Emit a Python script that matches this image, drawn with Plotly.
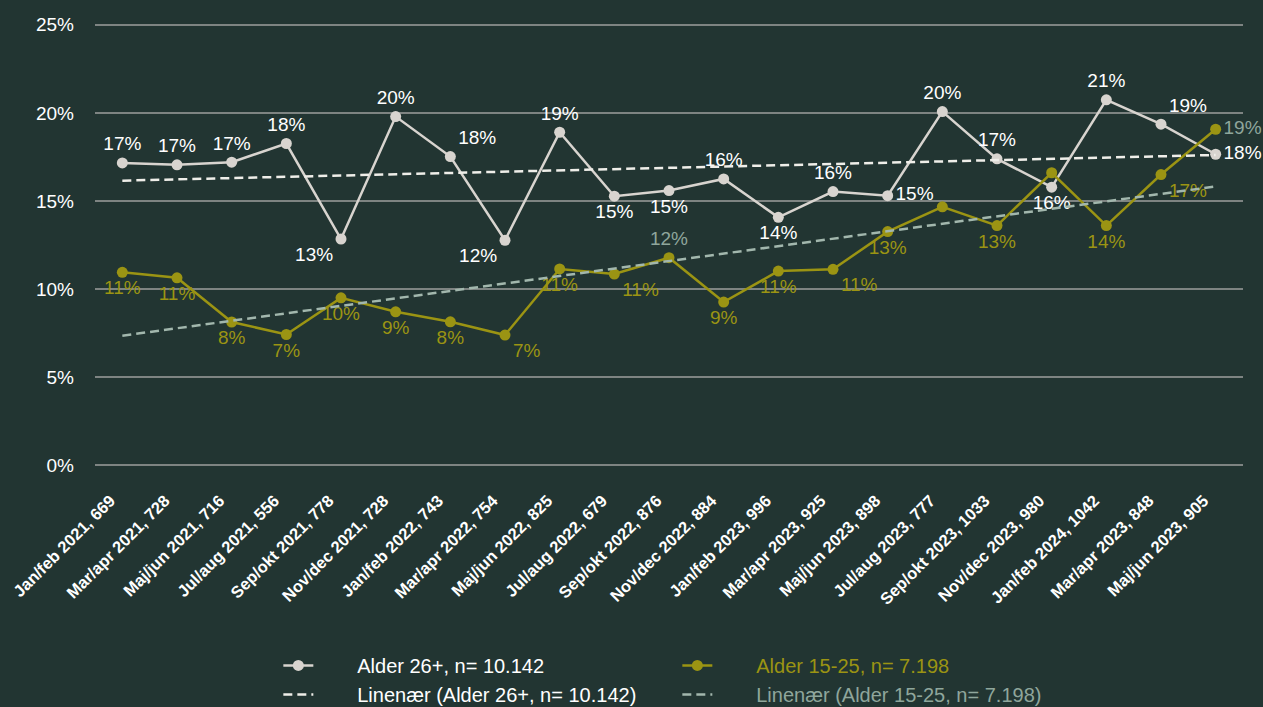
import numpy as np
import plotly.graph_objects as go

categories = [
    "Jan/feb 2021, 669", "Mar/apr 2021, 728", "Maj/jun 2021, 716", "Jul/aug 2021, 556",
    "Sep/okt 2021, 778", "Nov/dec 2021, 728", "Jan/feb 2022, 743", "Mar/apr 2022, 754",
    "Maj/jun 2022, 825", "Jul/aug 2022, 679", "Sep/okt 2022, 876", "Nov/dec 2022, 884",
    "Jan/feb 2023, 996", "Mar/apr 2023, 925", "Maj/jun 2023, 898", "Jul/aug 2023, 777",
    "Sep/okt 2023, 1033", "Nov/dec 2023, 980", "Jan/feb 2024, 1042", "Mar/apr 2023, 848",
    "Maj/jun 2023, 905",
]

age26_values = [17.16, 17.05, 17.2, 18.26, 12.84, 19.79, 17.52, 12.77, 18.9, 15.27, 15.59,
                16.25, 14.07, 15.53, 15.3, 20.07, 17.39, 15.78, 20.74, 19.36, 17.65]
age26_labels = ["17%", "17%", "17%", "18%", "13%", "20%", "18%", "12%", "19%", "15%", "15%",
                "16%", "14%", "16%", "15%", "20%", "17%", "16%", "21%", "19%", "18%"]

age15_values = [10.95, 10.64, 8.13, 7.42, 9.5, 8.71, 8.14, 7.39, 11.14, 10.85, 11.78,
                9.26, 11.02, 11.12, 13.26, 14.67, 13.6, 16.6, 13.6, 16.5, 19.07]
age15_labels = ["11%", "11%", "8%", "7%", "10%", "9%", "8%", "7%", "11%", "11%", "12%",
                "9%", "11%", "11%", "13%", "", "13%", "", "14%", "17%", "19%"]

y_ticks = [0, 5, 10, 15, 20, 25]
y_tick_labels = ["0%", "5%", "10%", "15%", "20%", "25%"]

BG = "#223532"
WHITE_LINE = "#d8d4cf"
OLIVE = "#9b9413"
GRAY_LBL = "#8fa69c"
TREND_W = "#efeee9"
TREND_O = "#a2b7ad"
GRID = "#7e8482"
FONT = "Liberation Sans, Arial, sans-serif"

w_pos = ["top center", "top center", "top center", "top center", "bottom left", "top center",
         "top right", "bottom left", "top center", "bottom center", "bottom center", "top center",
         "bottom center", "top center", "middle right", "top center", "top center",
         "bottom center", "top center", "top right", "middle right"]
o_pos = ["bottom center", "bottom center", "bottom center", "bottom center", "bottom center",
         "bottom center", "bottom center", "bottom right", "bottom center", "bottom right",
         "top center", "bottom center", "bottom center", "bottom right", "bottom center",
         "top center", "bottom center", "top center", "bottom center", "bottom right",
         "middle right"]
o_colors = [OLIVE] * len(categories)
o_colors[10] = GRAY_LBL
o_colors[20] = GRAY_LBL

idx = np.arange(len(categories))
cw = np.polyfit(idx, age26_values, 1)
co = np.polyfit(idx, age15_values, 1)
trend26 = np.polyval(cw, idx)
trend15 = np.polyval(co, idx)

sp = "&nbsp;" * 7
fig = go.Figure()
fig.add_trace(go.Scatter(
    x=categories, y=age26_values, mode="lines+markers+text",
    name=sp + "Alder 26+, n= 10.142",
    line=dict(color=WHITE_LINE, width=2.5),
    marker=dict(color=WHITE_LINE, size=11),
    text=age26_labels, textposition=w_pos,
    textfont=dict(color="#ffffff", size=19, family=FONT),
    cliponaxis=False,
))
fig.add_trace(go.Scatter(
    x=categories, y=age15_values, mode="lines+markers+text",
    name=sp + f'<span style="color:{OLIVE}">Alder 15-25, n= 7.198</span>',
    line=dict(color=OLIVE, width=2.5),
    marker=dict(color=OLIVE, size=11),
    text=age15_labels, textposition=o_pos,
    textfont=dict(color=o_colors, size=19, family=FONT),
    cliponaxis=False,
))
fig.add_trace(go.Scatter(
    x=categories, y=trend26, mode="lines",
    name=sp + "Linenær (Alder 26+, n= 10.142)",
    line=dict(color=TREND_W, width=2.5, dash="9px,5px"),
))
fig.add_trace(go.Scatter(
    x=categories, y=trend15, mode="lines",
    name=sp + f'<span style="color:{GRAY_LBL}">Linenær (Alder 15-25, n= 7.198)</span>',
    line=dict(color=TREND_O, width=2.5, dash="9px,5px"),
))

fig.update_layout(
    width=1263, height=707,
    paper_bgcolor=BG, plot_bgcolor=BG,
    margin=dict(l=95, r=20, t=23, b=240, autoexpand=False),
    font=dict(family=FONT, color="#ffffff", size=19),
    showlegend=True,
    legend=dict(
        orientation="h", x=0.1597, xanchor="left", y=-0.403, yanchor="top",
        font=dict(size=20, color="#ffffff", family=FONT),
        entrywidth=354, entrywidthmode="pixels",
        bgcolor="rgba(0,0,0,0)", traceorder="normal",
    ),
    xaxis=dict(
        type="category", showgrid=False, zeroline=False, showline=False,
        tickangle=-45, tickfont=dict(size=16.5, family=FONT, color="#ffffff", weight="bold"),
        ticks="", range=[-0.5, len(categories) - 0.5],
        ticklabelstandoff=20, ticklabelshift=-12, automargin=False,
    ),
    yaxis=dict(
        range=[-0.1, 25.1], tickvals=y_ticks, ticktext=y_tick_labels,
        showgrid=True, gridcolor=GRID, gridwidth=1.5, zeroline=False,
        tickfont=dict(size=19, color="#ffffff", family=FONT),
        ticklabelstandoff=20, showline=False, automargin=False,
    ),
)

fig.write_html("out.html", config={"displayModeBar": False},
               post_script="document.body.style.margin='0';")
